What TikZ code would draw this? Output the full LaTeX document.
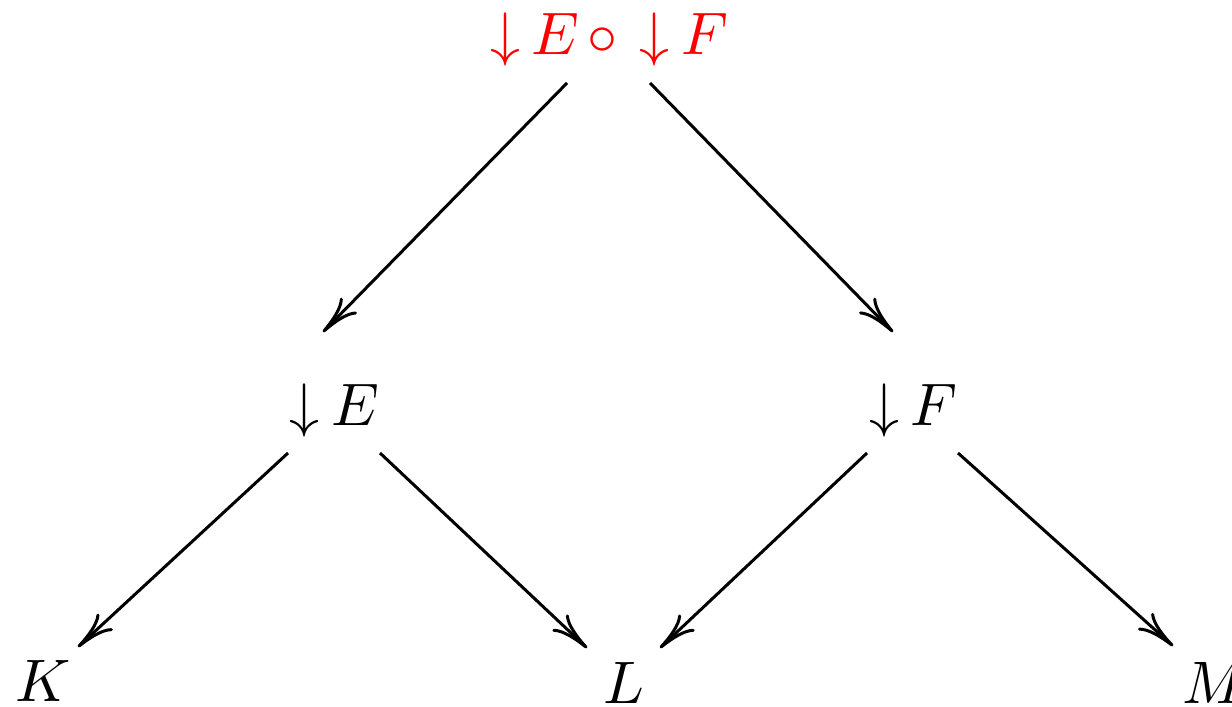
\documentclass[tikz,border=0pt]{standalone}
\usetikzlibrary{arrows.meta}
\newcommand{\dnar}{{\downarrow}\mskip3.5mu}
\begin{document}
\begin{tikzpicture}[x=0.1666667pt, y=-0.1666667pt,
  lbl/.style={anchor=base, inner sep=0pt, outer sep=0pt},
  edge/.style={-{Computer Modern Rightarrow[length=6.3pt, width=3.8pt]}, line width=0.5pt}]
\useasboundingbox (0,0) rectangle (1232,706);
\node[lbl, text=red] (top) at (609,55) {$\dnar E\mskip2.5mu{\circ}\mskip6.5mu\dnar F$};
\node[lbl] (E) at (334.5,425) {$\dnar E$};
\node[lbl] (F) at (913.5,425) {$\dnar F$};
\node[lbl] (K) at (43,701) {$K$};
\node[lbl] (L) at (624,703) {$L$};
\node[lbl] (M) at (1215,703) {$M$};
\draw[edge] ([shift={(-42,28)}]top.base) -- ([shift={(-11.5,-93)}]E.base);
\draw[edge] ([shift={(41,28)}]top.base) -- ([shift={(-20.5,-93)}]F.base);
\draw[edge] ([shift={(-46.5,28)}]E.base) -- ([shift={(35,-54)}]K.base);
\draw[edge] ([shift={(45.5,28)}]E.base) -- ([shift={(-37,-55)}]L.base);
\draw[edge] ([shift={(-46.5,28)}]F.base) -- ([shift={(36,-55)}]L.base);
\draw[edge] ([shift={(44.5,28)}]F.base) -- ([shift={(-42,-57)}]M.base);
\end{tikzpicture}
\end{document}
